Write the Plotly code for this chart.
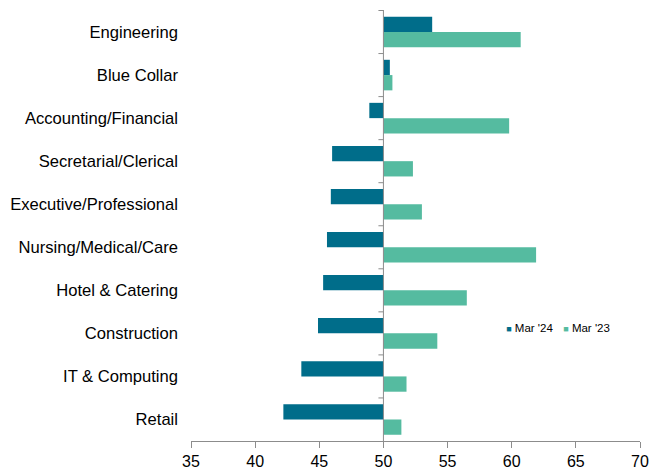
import plotly.graph_objects as go
import numpy as np

categories = ["Engineering", "Blue Collar", "Accounting/Financial", "Secretarial/Clerical",
              "Executive/Professional", "Nursing/Medical/Care", "Hotel & Catering",
              "Construction", "IT & Computing", "Retail"]
mar24 = [53.8, 50.5, 48.9, 46.0, 45.9, 45.6, 45.3, 44.9, 43.6, 42.2]
mar23 = [60.7, 50.7, 59.8, 52.3, 53.0, 61.9, 56.5, 54.2, 51.8, 51.4]
series_names = ["Mar '24", "Mar '23"]
baseline = 50
x_ticks = [35, 40, 45, 50, 55, 60, 65, 70]

C24 = "#006D8A"
C23 = "#55BBA0"
AX = "#8C8C8C"
FONT = "Liberation Sans, Arial, sans-serif"

fig = go.Figure()
for name, vals, col, lg in [(series_names[0], mar24, C24, "legend"),
                            (series_names[1], mar23, C23, "legend2")]:
    v = np.array(vals)
    fig.add_trace(go.Bar(
        y=categories, x=v - baseline, base=baseline, orientation="h",
        name=name, legendgroup=name, marker=dict(color=col, line=dict(width=0)),
        showlegend=False, customdata=v,
        hovertemplate="%{y}: %{customdata}<extra>" + name + "</extra>"))
    # legend entry: coloured square glyph next to the name
    fig.add_trace(go.Scatter(
        x=[None], y=[None], mode="markers", legendgroup=name, legend=lg,
        name="<span style='color:%s;font-size:9px'>■</span> %s" % (col, name),
        marker=dict(size=0, color="rgba(0,0,0,0)", line=dict(width=0)),
        showlegend=True, hoverinfo="skip"))

shapes = [dict(type="line", xref="x", yref="paper", x0=baseline, x1=baseline, y0=0, y1=1,
               line=dict(color=AX, width=1))]
for i in range(len(categories)):
    shapes.append(dict(type="line", xref="x", yref="y", xsizemode="pixel", xanchor=baseline,
                       x0=-5, x1=0, y0=i - 0.5, y1=i - 0.5, line=dict(color=AX, width=1)))

leg_common = dict(orientation="h", y=0.2625, xanchor="left", yanchor="middle",
                  font=dict(size=11.5), bgcolor="rgba(0,0,0,0)", itemwidth=30)

fig.update_layout(
    width=649, height=474,
    margin=dict(l=191, r=9, t=10, b=33, autoexpand=False),
    paper_bgcolor="white", plot_bgcolor="white",
    font=dict(family=FONT, size=16, color="#000000"),
    barmode="group", bargap=0.29, bargroupgap=0,
    shapes=shapes,
    legend=dict(x=0.6130, **leg_common),
    legend2=dict(x=0.7400, **leg_common),
    xaxis=dict(range=[35, 70], tickvals=x_ticks, showgrid=False, zeroline=False,
               showline=True, linecolor=AX, linewidth=1, ticks="outside", ticklen=6,
               tickcolor=AX, tickfont=dict(size=16), automargin=False),
    yaxis=dict(type="category", categoryorder="array", categoryarray=categories,
               autorange="reversed", showgrid=False, zeroline=False, showline=False,
               ticks="", ticklabelstandoff=12, tickfont=dict(size=16.6), automargin=False),
)

fig.write_html("out.html", config={"displayModeBar": False},
               post_script="document.body.style.margin='0';")
